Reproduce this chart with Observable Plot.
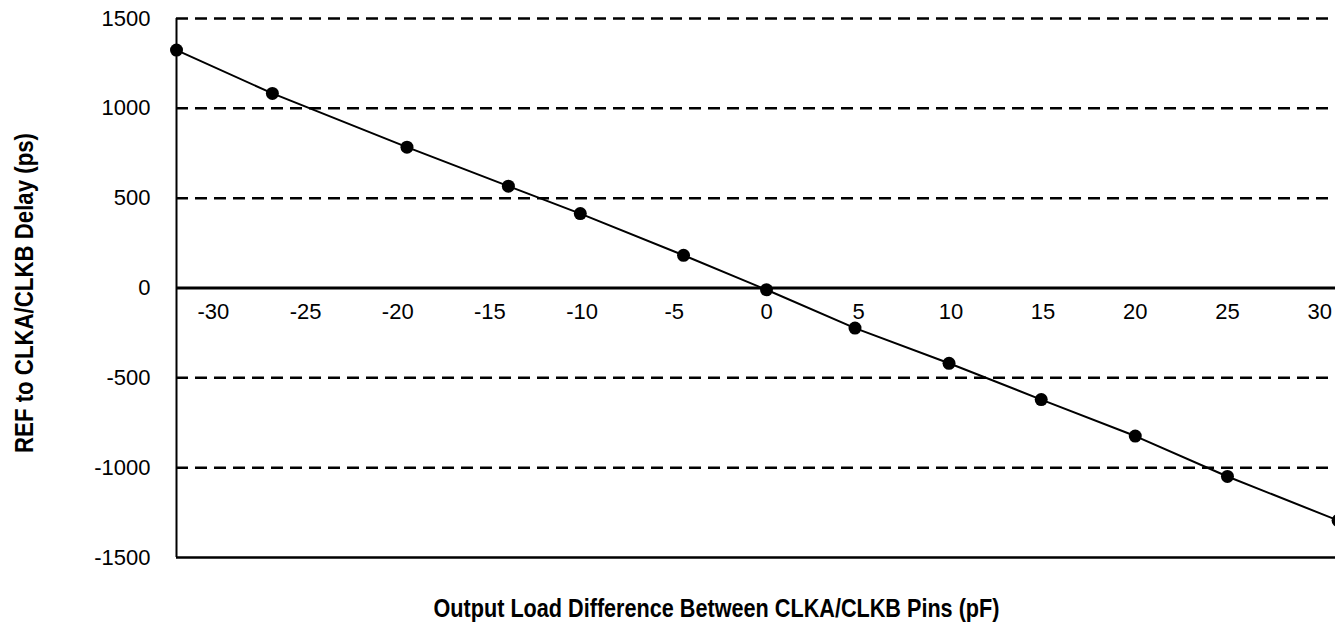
<!DOCTYPE html>
<html>
<head>
<meta charset="utf-8">
<script src="https://cdn.jsdelivr.net/npm/d3@7"></script>
<script src="https://cdn.jsdelivr.net/npm/@observablehq/plot@0.6"></script>
<style>
  html, body { margin: 0; padding: 0; background: white; overflow: hidden; }
  #wrap { width: 1335px; height: 630px; overflow: hidden; }
  #wrap svg { max-width: none !important; }
</style>
</head>
<body>
<div id="wrap"></div>
<script>
// Output load difference (pF) and delay (ps)
const loadDiff = [-32, -26.8, -19.5, -14, -10.1, -4.5, 0, 4.8, 9.9, 14.9, 20, 25, 31.0];
const delayPs  = [1324, 1083, 784, 567, 414, 182, -10, -223, -419, -621, -824, -1049, -1294];
const xTicks = [-30, -25, -20, -15, -10, -5, 0, 5, 10, 15, 20, 25, 30];
const yTicks = [-1500, -1000, -500, 0, 500, 1000, 1500];
const gridLevels = [1500, 1000, 500, -500, -1000];
const xTitle = "Output Load Difference Between CLKA/CLKB Pins (pF)";
const yTitle = "REF to CLKA/CLKB Delay (ps)";

const data = loadDiff.map((x, i) => ({x, y: delayPs[i]}));
const titleFont = "'Liberation Sans', Arial, sans-serif";

const chart = Plot.plot({
  width: 1356,
  height: 630,
  marginLeft: 176,
  marginRight: 0,
  marginTop: 18,
  marginBottom: 73,
  style: {fontFamily: "'Liberation Sans', Arial, sans-serif", fontSize: "22px", background: "white", color: "black", maxWidth: "none"},
  x: {domain: [-32, 32], axis: null},
  y: {domain: [-1500, 1500], ticks: yTicks, tickSize: 0, tickPadding: 26, label: null, tickFormat: d => String(d)},
  marks: [
    Plot.ruleY(gridLevels, {stroke: "black", strokeWidth: 2.5, strokeDasharray: "12,7"}),
    Plot.ruleY([0], {stroke: "black", strokeWidth: 3}),
    Plot.ruleY([-1500], {stroke: "black", strokeWidth: 2.5}),
    Plot.ruleX([-32], {stroke: "black", strokeWidth: 2}),
    Plot.line(data, {x: "x", y: "y", stroke: "black", strokeWidth: 2}),
    Plot.dot(data, {x: "x", y: "y", r: 6.5, fill: "black", stroke: "none"}),
    Plot.text(xTicks, {x: d => d, y: 0, dy: 24, text: d => String(d), fontSize: 22}),
    Plot.text([xTitle], {frameAnchor: "bottom-left", textAnchor: "start", dx: 257, dy: 59, fontSize: 25, fontWeight: "bold", fontFamily: titleFont}),
    Plot.text([yTitle], {frameAnchor: "left", textAnchor: "start", dx: -152, dy: 165, rotate: -90, fontSize: 25, fontWeight: "bold", fontFamily: titleFont})
  ]
});
chart.style.maxWidth = "none";
d3.select(chart).selectAll("text").each(function() {
  if (this.textContent === xTitle) {
    this.setAttribute("textLength", 566);
    this.setAttribute("lengthAdjust", "spacingAndGlyphs");
  } else if (this.textContent === yTitle) {
    this.setAttribute("textLength", 320);
    this.setAttribute("lengthAdjust", "spacingAndGlyphs");
  }
});
document.getElementById("wrap").appendChild(chart);
</script>
</body>
</html>
